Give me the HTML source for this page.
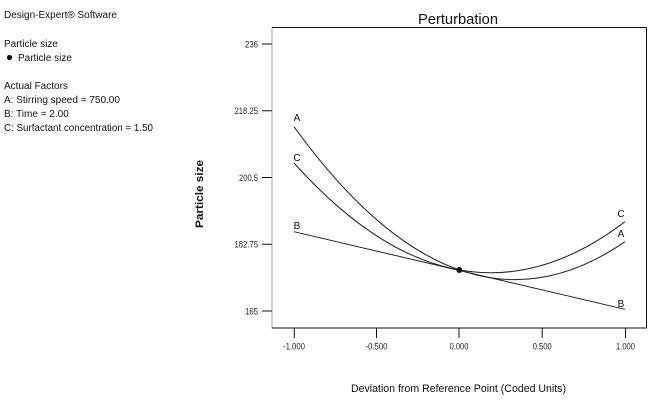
<!DOCTYPE html>
<html><head><meta charset="utf-8"><style>
html,body{margin:0;padding:0;background:#fff;}
svg{display:block;font-family:"Liberation Sans",Arial,sans-serif;}
</style></head><body>
<svg width="660" height="400" viewBox="0 0 660 400" xmlns="http://www.w3.org/2000/svg">
<rect width="660" height="400" fill="#fff"/>
<g font-size="10" fill="#111">
<text x="4" y="18">Design-Expert® Software</text>
<text x="4" y="47">Particle size</text>
<circle cx="9.5" cy="57.5" r="2.6" fill="#111"/>
<text x="18" y="61">Particle size</text>
<text x="4" y="89">Actual Factors</text>
<text x="4" y="103">A: Stirring speed = 750.00</text>
<text x="4" y="117">B: Time = 2.00</text>
<text x="4" y="131" textLength="149" lengthAdjust="spacingAndGlyphs">C: Surfactant concentration = 1.50</text>
</g>
<text x="458" y="24" font-size="15" text-anchor="middle" fill="#111" textLength="80" lengthAdjust="spacingAndGlyphs">Perturbation</text>
<line x1="272" y1="27" x2="272" y2="328.5" stroke="#d2d2d2" stroke-width="2"/>
<line x1="272" y1="27.5" x2="647" y2="27.5" stroke="#111" stroke-width="1"/>
<line x1="646.5" y1="27" x2="646.5" y2="328.5" stroke="#111" stroke-width="1"/>
<line x1="272" y1="328" x2="647" y2="328" stroke="#111" stroke-width="1"/>
<g stroke="#111" stroke-width="1">
<line x1="262" y1="44" x2="272" y2="44"/>
<line x1="262" y1="110.75" x2="272" y2="110.75"/>
<line x1="262" y1="177.5" x2="272" y2="177.5"/>
<line x1="262" y1="244.25" x2="272" y2="244.25"/>
<line x1="262" y1="311" x2="272" y2="311"/>
<line x1="294.3" y1="328" x2="294.3" y2="338"/>
<line x1="376.5" y1="328" x2="376.5" y2="338"/>
<line x1="459" y1="328" x2="459" y2="338"/>
<line x1="542.2" y1="328" x2="542.2" y2="338"/>
<line x1="625.5" y1="328" x2="625.5" y2="338"/>
</g>
<g font-size="9" fill="#222" text-anchor="end">
<text x="258" y="47.3" textLength="13" lengthAdjust="spacingAndGlyphs">236</text>
<text x="258" y="114" textLength="23.5" lengthAdjust="spacingAndGlyphs">218.25</text>
<text x="258" y="181" textLength="19" lengthAdjust="spacingAndGlyphs">200.5</text>
<text x="258" y="247.5" textLength="23.5" lengthAdjust="spacingAndGlyphs">182.75</text>
<text x="258" y="314.3" textLength="13" lengthAdjust="spacingAndGlyphs">165</text>
</g>
<g font-size="9" fill="#222" text-anchor="middle">
<text x="294" y="349.5" textLength="22" lengthAdjust="spacingAndGlyphs">-1.000</text>
<text x="376.5" y="349.5" textLength="22" lengthAdjust="spacingAndGlyphs">-0.500</text>
<text x="459" y="349.5" textLength="19" lengthAdjust="spacingAndGlyphs">0.000</text>
<text x="542.2" y="349.5" textLength="19" lengthAdjust="spacingAndGlyphs">0.500</text>
<text x="625.5" y="349.5" textLength="19" lengthAdjust="spacingAndGlyphs">1.000</text>
</g>
<text x="458.5" y="392" font-size="10.6" text-anchor="middle" fill="#111" textLength="215" lengthAdjust="spacingAndGlyphs">Deviation from Reference Point (Coded Units)</text>
<text transform="translate(203,194) rotate(-90)" font-size="11" font-weight="bold" text-anchor="middle" fill="#111" textLength="68" lengthAdjust="spacingAndGlyphs">Particle size</text>
<!-- A: quadratic -->
<path fill="none" stroke="#222" stroke-width="1" d="M294,126.7 Q459.5,355.8 625,241.7"/>
<!-- C: quadratic -->
<path fill="none" stroke="#222" stroke-width="1" d="M294,163 Q459.5,347.65 625,221.7"/>
<!-- B linear -->
<line x1="294" y1="231.7" x2="625" y2="309.3" stroke="#222" stroke-width="1"/>
<circle cx="459.3" cy="270" r="3" fill="#111"/>
<g font-size="10" fill="#111" text-anchor="middle">
<text x="297" y="121">A</text>
<text x="297" y="161">C</text>
<text x="297" y="229">B</text>
<text x="621" y="217">C</text>
<text x="621" y="237">A</text>
<text x="621" y="307">B</text>
</g>
</svg>
</body></html>
